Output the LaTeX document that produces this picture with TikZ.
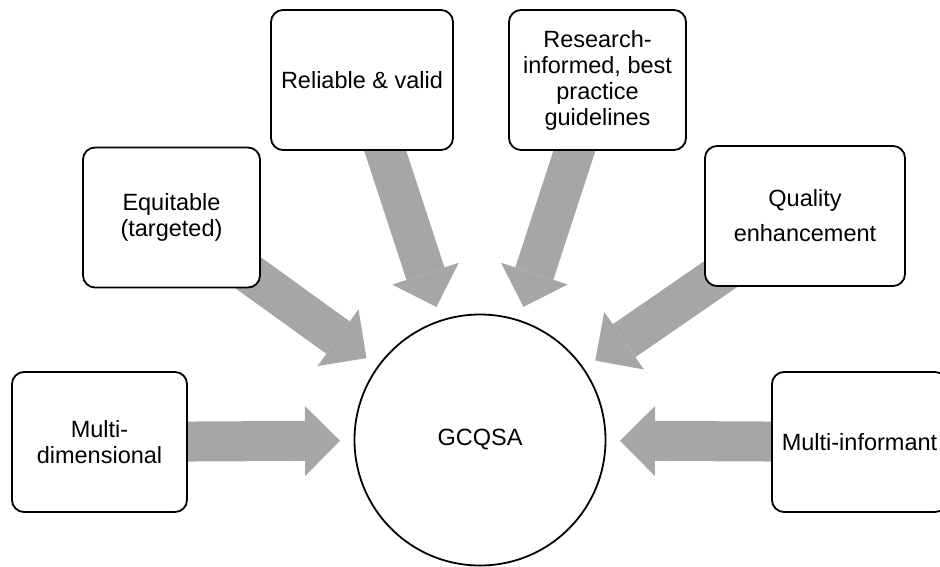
\documentclass[tikz,border=0pt]{standalone}
\usepackage{fontspec}
\setmainfont{Liberation Sans}
\usetikzlibrary{arrows.meta,backgrounds}
\definecolor{ArrowGrey}{RGB}{166,166,166}

\begin{document}
\begin{tikzpicture}[x=1pt,y=-1pt,
        box/.style={draw,line width=1.8pt,rounded corners=12pt,fill=white,
                    minimum width=177pt,minimum height=140pt,inner sep=2pt,
                    align=center,font=\fontsize{23.5}{26}\selectfont},
        hub/.style={circle,draw,line width=1.8pt,fill=white,minimum size=251pt,
                    font=\fontsize{23.5}{26}\selectfont},
        fat/.style={ArrowGrey,line width=40pt,shorten >=140pt,
                    -{Triangle[width=70pt,length=35pt,line width=0pt]}}
      ]
        \useasboundingbox (0,0) rectangle (940,567);
        \node[hub] (core) at (480,440) {GCQSA};
        \node[box,minimum width=175pt] (md) at (99.5,442) {Multi-\\dimensional};
        \node[box] (eq) at (171.5,217.5) {Equitable\\(targeted)};
        \node[box,minimum width=182pt] (rv) at (362,80) {Reliable \& valid};
        \node[box] (rb) at (597.5,80) {Research-\\informed, best\\practice\\guidelines};
        \node[box,minimum width=200pt] (qe) at (805,216) {Quality\\[9pt]enhancement};
        \node[box,minimum width=175pt] (mi) at (859.5,442) {Multi-informant};
        % grey arrows sit behind the boxes
        \begin{scope}[on background layer]
          \foreach \b in {md,eq,rv,rb,qe,mi}
            \draw[fat] (\b.center) -- (core.center);
        \end{scope}
      \end{tikzpicture}
\end{document}
